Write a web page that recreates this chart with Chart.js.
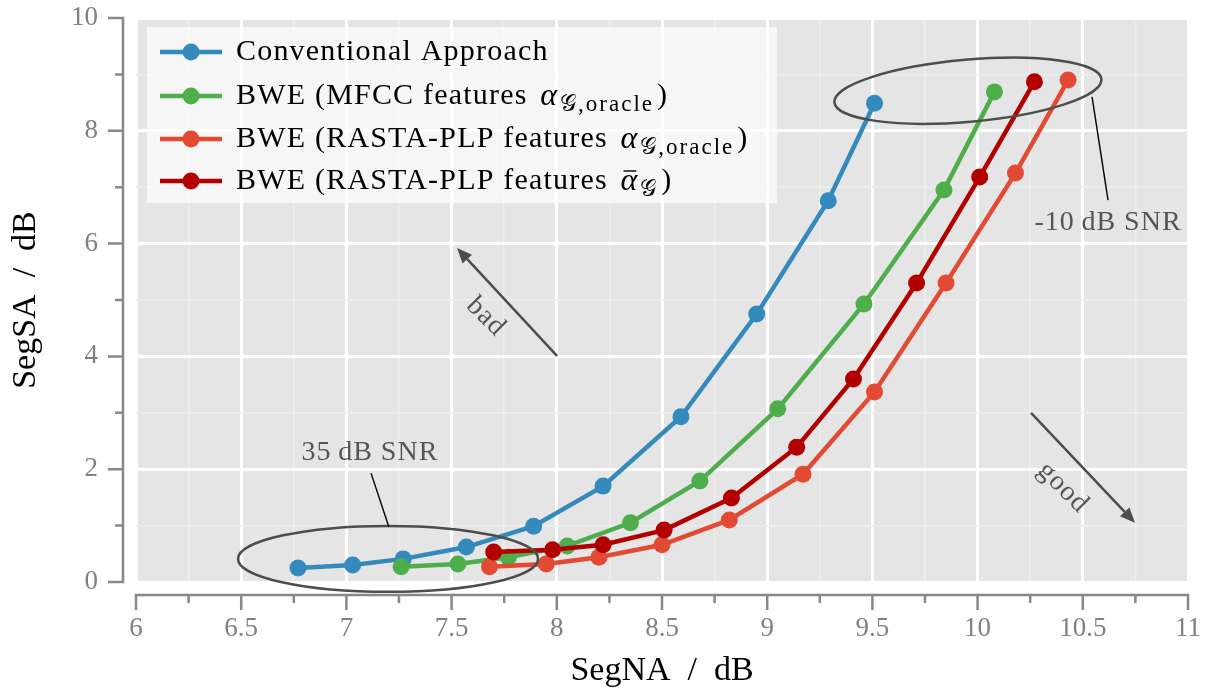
<!DOCTYPE html>
<html><head><meta charset="utf-8">
<script src="https://cdn.jsdelivr.net/npm/chart.js@4/dist/chart.umd.min.js"></script>
<style>html,body{margin:0;padding:0;background:#fff}#wrap{width:1211px;height:695px}</style>
</head><body><div id="wrap"><canvas id="c" width="1211" height="695"></canvas></div>
<script>
// ---------- data ----------
const conventionalX = [6.77, 7.03, 7.27, 7.57, 7.89, 8.22, 8.59, 8.95, 9.29, 9.51];
const conventionalY = [0.25, 0.30, 0.41, 0.62, 0.99, 1.70, 2.93, 4.75, 6.76, 8.49];
const mfccX = [7.26, 7.53, 7.77, 8.05, 8.35, 8.68, 9.05, 9.46, 9.84, 10.08];
const mfccY = [0.27, 0.32, 0.44, 0.64, 1.05, 1.79, 3.07, 4.93, 6.95, 8.69];
const rastaOracleX = [7.68, 7.95, 8.20, 8.50, 8.82, 9.17, 9.51, 9.85, 10.18, 10.43];
const rastaOracleY = [0.27, 0.32, 0.44, 0.66, 1.10, 1.91, 3.37, 5.30, 7.25, 8.90];
const rastaEstX = [7.70, 7.98, 8.22, 8.51, 8.83, 9.14, 9.41, 9.71, 10.01, 10.27];
const rastaEstY = [0.53, 0.57, 0.66, 0.92, 1.49, 2.39, 3.60, 5.30, 7.18, 8.87];

const xTickLabels = ['6','6.5','7','7.5','8','8.5','9','9.5','10','10.5','11'];
const yTickLabels = ['0','2','4','6','8','10'];
const xTitle = 'SegNA\u2002/\u2002dB';
const yTitle = 'SegSA\u2002/\u2002dB';

// legend label parts: [text, style]  n=normal, i=italic math, s=subscript, b=alpha with bar
const legendLabels = [
  [['Conventional Approach','n']],
  [['BWE (MFCC features ','n'],['α','i'],['𝒢,oracle','s'],[')','n']],
  [['BWE (RASTA-PLP features ','n'],['α','i'],['𝒢,oracle','s'],[')','n']],
  [['BWE (RASTA-PLP features ','n'],['α','b'],['𝒢','s'],[')','n']]
];
const colors = ['#348ABD', '#4EAE4B', '#E24A33', '#B20000'];

// annotations (data coordinates)
const snrLabels = ['35\u2009dB SNR', '-10\u2009dB SNR'];
const ellipses = [ {cx:7.198, cy:0.41, rx:0.713, ry:0.585, rot:0}, {cx:9.954, cy:8.71, rx:0.637, ry:0.55, rot:-5} ];
const leaders = [ [[7.202,0.975],[7.117,1.93]], [[10.544,8.60],[10.62,6.77]] ];
const snrPos = [[7.112,2.29],[10.62,6.38]];
const arrowLabels = ['bad','good'];
const arrows = [ [[8.001,4.01],[7.526,5.92]], [[10.254,3.00],[10.748,1.05]] ];
const arrowTextPos = [[7.663,4.70],[10.406,1.67]];

// ---------- chart ----------
const SERIF = '"Liberation Serif", "DejaVu Serif", serif';
function pts(xs, ys){ return xs.map((x,i)=>({x:x, y:ys[i]})); }
const seriesData = [pts(conventionalX,conventionalY), pts(mfccX,mfccY), pts(rastaOracleX,rastaOracleY), pts(rastaEstX,rastaEstY)];

const datasets = seriesData.map((d,i)=>({
  data:d, borderColor:colors[i], backgroundColor:colors[i], pointBackgroundColor:colors[i],
  pointBorderWidth:0, pointRadius:8.5, borderWidth:4.5, showLine:true, fill:false, tension:0,
  order: 4-i
}));

function isMajorX(v){ return Math.abs(v*2 - Math.round(v*2)) < 1e-6; }
function isMajorY(v){ return Math.abs(v/2 - Math.round(v/2)) < 1e-6; }
function zeroPad(s){ s.paddingTop=0; s.paddingBottom=0; s.paddingLeft=0; s.paddingRight=0; }

const bgPlugin = {
  id:'bg',
  beforeDraw(chart){
    const {ctx, chartArea:a} = chart;
    ctx.save(); ctx.fillStyle='#E5E5E5';
    ctx.fillRect(a.left, a.top, a.right-a.left, a.bottom-a.top); ctx.restore();
  }
};

const axesPlugin = {
  id:'axesOffset',
  afterDraw(chart){
    const {ctx} = chart; const xs = chart.scales.x, ys = chart.scales.y;
    ctx.save(); ctx.strokeStyle='#888888'; ctx.lineWidth=2.5; ctx.lineCap='butt';
    const axY = ys.getPixelForValue(ys.min) + 13;
    const axX = xs.getPixelForValue(xs.min) - 13;
    ctx.beginPath();
    ctx.moveTo(xs.getPixelForValue(xs.min)-1.2, axY); ctx.lineTo(xs.getPixelForValue(xs.max)+1.2, axY);
    xs.ticks.forEach(t=>{ const p = xs.getPixelForValue(t.value); ctx.moveTo(p, axY-1.2); ctx.lineTo(p, axY + (isMajorX(t.value)?15:8)); });
    ctx.moveTo(axX, ys.getPixelForValue(ys.min)+1.2); ctx.lineTo(axX, ys.getPixelForValue(ys.max)-1.2);
    ys.ticks.forEach(t=>{ const p = ys.getPixelForValue(t.value); ctx.moveTo(axX+1.2, p); ctx.lineTo(axX - (isMajorY(t.value)?15:8), p); });
    ctx.stroke(); ctx.restore();
  }
};

const annoPlugin = {
  id:'anno',
  afterDatasetsDraw(chart){
    const {ctx} = chart; const xs = chart.scales.x, ys = chart.scales.y;
    const X = v=>xs.getPixelForValue(v), Y = v=>ys.getPixelForValue(v);
    ctx.save();
    ctx.strokeStyle='#4D4D4D'; ctx.lineWidth=2.5;
    ellipses.forEach(e=>{
      const rxp = X(e.cx+e.rx)-X(e.cx), ryp = Y(e.cy)-Y(e.cy+e.ry);
      ctx.beginPath(); ctx.ellipse(X(e.cx), Y(e.cy), rxp, ryp, e.rot*Math.PI/180, 0, Math.PI*2); ctx.stroke();
    });
    ctx.strokeStyle='#000'; ctx.lineWidth=1.4;
    leaders.forEach(l=>{ ctx.beginPath(); ctx.moveTo(X(l[0][0]),Y(l[0][1])); ctx.lineTo(X(l[1][0]),Y(l[1][1])); ctx.stroke(); });
    ctx.fillStyle='#555555'; ctx.font='28px '+SERIF; ctx.textAlign='center'; ctx.textBaseline='middle';
    ctx.letterSpacing='1px';
    snrPos.forEach((p,i)=>ctx.fillText(snrLabels[i], X(p[0]), Y(p[1])));
    ctx.strokeStyle='#4D4D4D'; ctx.fillStyle='#4D4D4D'; ctx.lineWidth=2.5;
    arrows.forEach(a=>{
      const x0=X(a[0][0]), y0=Y(a[0][1]), x1=X(a[1][0]), y1=Y(a[1][1]);
      const ang=Math.atan2(y1-y0,x1-x0), L=15, W=6.5;
      const bx=x1-L*Math.cos(ang), by=y1-L*Math.sin(ang);
      ctx.beginPath(); ctx.moveTo(x0,y0); ctx.lineTo(bx,by); ctx.stroke();
      ctx.beginPath(); ctx.moveTo(x1,y1);
      ctx.lineTo(bx+W*Math.sin(ang), by-W*Math.cos(ang));
      ctx.lineTo(bx-W*Math.sin(ang), by+W*Math.cos(ang)); ctx.closePath(); ctx.fill();
    });
    ctx.fillStyle='#555555'; ctx.font='28px '+SERIF;
    arrowTextPos.forEach((p,i)=>{
      ctx.save(); ctx.translate(X(p[0]),Y(p[1])); ctx.rotate(Math.PI/4);
      ctx.fillText(arrowLabels[i],0,0); ctx.restore();
    });
    ctx.restore();
  }
};

const legendPlugin = {
  id:'customLegend',
  afterDatasetsDraw(chart){
    const {ctx} = chart;
    ctx.save();
    ctx.fillStyle='rgba(255,255,255,0.65)';
    ctx.fillRect(147,27,630,176);
    const rowY=[52,96,139,181];
    legendLabels.forEach((parts,i)=>{
      const y=rowY[i];
      ctx.strokeStyle=colors[i]; ctx.lineWidth=4.5;
      ctx.beginPath(); ctx.moveTo(160,y); ctx.lineTo(222,y); ctx.stroke();
      ctx.fillStyle=colors[i]; ctx.beginPath(); ctx.arc(191,y,8.5,0,Math.PI*2); ctx.fill();
      let x=236; ctx.fillStyle='#000'; ctx.textBaseline='middle'; ctx.textAlign='left';
      parts.forEach(([t,s])=>{
        if(s==='n'){ ctx.letterSpacing='1.2px'; ctx.font='30px '+SERIF; ctx.fillText(t,x,y); x+=ctx.measureText(t).width; }
        else if(s==='i'||s==='b'){ ctx.letterSpacing='0px'; x+=4; ctx.font='italic 32px '+SERIF; ctx.fillText(t,x,y+1); const w=ctx.measureText(t).width;
          if(s==='b'){ ctx.strokeStyle='#000'; ctx.lineWidth=1.4; ctx.beginPath(); ctx.moveTo(x+3,y-10); ctx.lineTo(x+w-1,y-10); ctx.stroke(); }
          x+=w+3; }
        else { ctx.letterSpacing='2px'; ctx.font='23px '+SERIF; ctx.fillText(t,x,y+9); x+=ctx.measureText(t).width+3; }
      });
    });
    ctx.restore();
  }
};

new Chart(document.getElementById('c'), {
  type:'line',
  data:{ datasets },
  plugins:[bgPlugin, axesPlugin, annoPlugin, legendPlugin],
  options:{
    responsive:false, devicePixelRatio:1, animation:false,
    layout:{ padding:{ top:18, right:23, left:0, bottom:0 } },
    plugins:{ legend:{display:false}, tooltip:{enabled:false} },
    scales:{
      x:{ type:'linear', min:6, max:11,
        afterFit(s){ s.height = 113; zeroPad(s); },
        border:{display:false},
        grid:{ drawTicks:false, color:c=>isMajorX(c.tick.value)?'#FFFFFF':'#EEEEEE', lineWidth:c=>isMajorX(c.tick.value)?3:1.5 },
        ticks:{ stepSize:0.25, autoSkip:false, maxRotation:0, padding:31, color:'#808080', font:{family:SERIF, size:27},
          callback:(v)=>{ if(!isMajorX(v)) return ''; const k=Math.round((v-6)*2); return xTickLabels[k]; } },
        title:{ display:true, text:xTitle, color:'#000', font:{family:SERIF, size:34}, padding:{top:0,bottom:4} }
      },
      y:{ type:'linear', min:0, max:10,
        afterFit(s){ s.width = 136; zeroPad(s); },
        border:{display:false},
        grid:{ drawTicks:false, color:c=>isMajorY(c.tick.value)?'#FFFFFF':'#EEEEEE', lineWidth:c=>isMajorY(c.tick.value)?3:1.5 },
        ticks:{ stepSize:1, autoSkip:false, padding:38, color:'#808080', font:{family:SERIF, size:27},
          callback:(v)=>{ if(!isMajorY(v)) return ''; return yTickLabels[Math.round(v/2)]; } },
        title:{ display:true, text:yTitle, color:'#000', font:{family:SERIF, size:34}, padding:{top:6,bottom:0} }
      }
    }
  }
});
</script></body></html>
